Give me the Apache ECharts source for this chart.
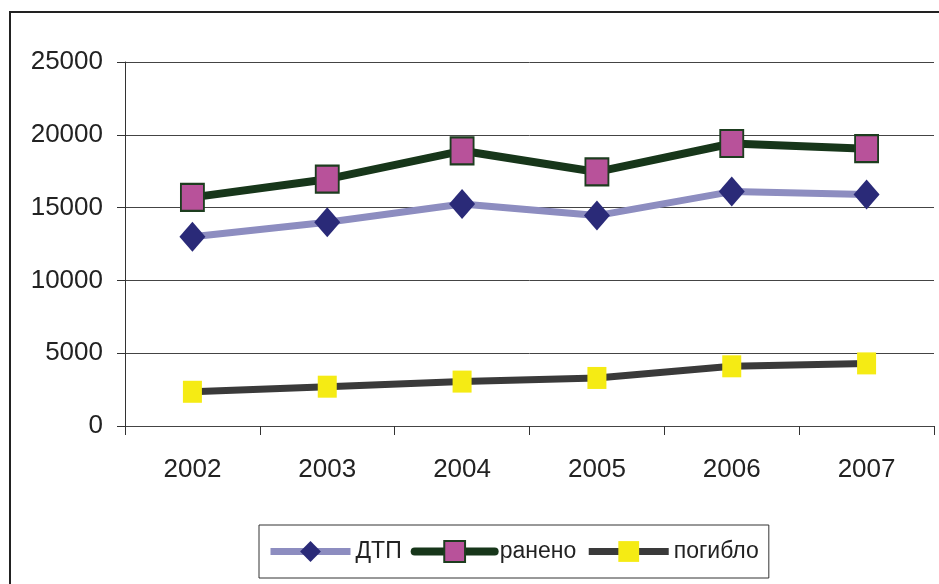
<!DOCTYPE html>
<html>
<head>
<meta charset="utf-8">
<script src="https://cdn.jsdelivr.net/npm/echarts@6/dist/echarts.min.js"></script>
<style>
  html, body { margin: 0; padding: 0; background: #fff; }
  #chart { width: 939px; height: 584px; }
</style>
</head>
<body>
<div id="chart"></div>
<script>
// Years on the category axis
const years = ['2002', '2003', '2004', '2005', '2006', '2007'];
// Road accidents, injured and killed per year
const dtp = [13000, 14000, 15250, 14450, 16100, 15900];
const raneno = [15700, 16950, 18900, 17450, 19400, 19050];
const pogiblo = [2350, 2700, 3050, 3300, 4100, 4300];
// Value axis range
const yMin = 0, yMax = 25000, yStep = 5000;

const FONT = "'Liberation Sans', Arial, sans-serif";
const TEXT = '#222';
const FS = 26;

const chart = echarts.init(document.getElementById('chart'), null, { renderer: 'canvas' });

chart.setOption({
  animation: false,
  backgroundColor: '#fff',
  graphic: [{
    type: 'rect',
    shape: { x: 10, y: 12, width: 1000, height: 1000 },
    style: { fill: 'none', stroke: '#222', lineWidth: 2 },
    silent: true,
    z: -1
  }],
  grid: { left: 125, right: 5, top: 62, bottom: 158, containLabel: false },
  xAxis: {
    type: 'category',
    data: years,
    boundaryGap: true,
    axisLine: { show: true, lineStyle: { color: '#444', width: 1 } },
    axisTick: { show: true, length: 9, lineStyle: { color: '#333' } },
    axisLabel: { color: TEXT, fontFamily: FONT, fontSize: FS, margin: 31 },
    splitLine: { show: false }
  },
  yAxis: {
    type: 'value',
    min: yMin, max: yMax, interval: yStep,
    axisLine: { show: true, lineStyle: { color: '#333', width: 1 } },
    axisTick: { show: true, inside: false, length: 8, lineStyle: { color: '#333' } },
    axisLabel: {
      color: TEXT, fontFamily: FONT, fontSize: FS, margin: 22,
      formatter: (v) => String(v)
    },
    splitLine: { show: true, lineStyle: { color: '#444', width: 1 } }
  },
  legend: {
    left: 259, top: 525,
    orient: 'horizontal',
    padding: [15, 10, 15, 8],
    itemGap: 9,
    itemWidth: 80, itemHeight: 26,
    borderColor: '#333', borderWidth: 1,
    textStyle: { color: TEXT, fontFamily: FONT, fontSize: 23 },
    data: [
      { name: 'ДТП', lineStyle: { width: 7, color: '#8d8dc0' } },
      { name: 'ранено', lineStyle: { width: 8, color: '#17361a', cap: 'round' } },
      { name: 'погибло', lineStyle: { width: 7, color: '#3a3a3a' } }
    ]
  },
  series: [
    {
      name: 'ДТП', type: 'line', data: dtp,
      symbol: 'diamond', symbolSize: [26, 30],
      lineStyle: { color: '#8d8dc0', width: 7 },
      itemStyle: { color: '#2a2a78', borderWidth: 0 },
      z: 2
    },
    {
      name: 'ранено', type: 'line', data: raneno,
      symbol: 'rect', symbolSize: [23, 27],
      lineStyle: { color: '#17361a', width: 8 },
      itemStyle: { color: '#b8529a', borderColor: '#1d3d1f', borderWidth: 2 },
      z: 3
    },
    {
      name: 'погибло', type: 'line', data: pogiblo,
      symbol: 'rect', symbolSize: [19, 22],
      lineStyle: { color: '#3a3a3a', width: 7 },
      itemStyle: { color: '#f5eb14', borderWidth: 0 },
      z: 2
    }
  ]
});
</script>
</body>
</html>
